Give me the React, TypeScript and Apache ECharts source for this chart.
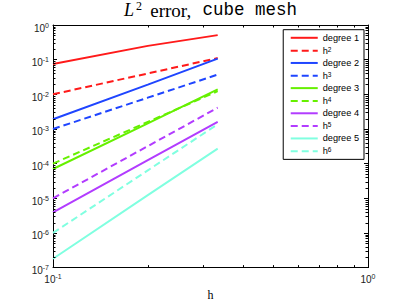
import React, { useEffect, useRef } from 'react';
import * as echarts from 'echarts';

// mesh sizes h
const hValues = [0.1, 0.2, 0.3333];

// errors
const degree1 = [0.075, 0.25, 0.51];
const hPow2 = [0.01, 0.04, 0.111];
const degree2 = [0.0019, 0.019, 0.107];
const hPow3 = [0.001, 0.008, 0.037];
const degree3 = [7e-5, 1.45e-3, 0.0138];
const hPow4 = [1e-4, 1.6e-3, 0.0123];
const degree4 = [3.9e-6, 1.26e-4, 0.0016];
const hPow5 = [1e-5, 3.2e-4, 0.0041];
const degree5 = [1.8e-7, 1.23e-5, 2.7e-4];
const hPow6 = [1e-6, 6.4e-5, 0.00137];

const seriesNames = ['degree 1', 'h2', 'degree 2', 'h3', 'degree 3', 'h4', 'degree 4', 'h5', 'degree 5', 'h6'];
const seriesValues = [degree1, hPow2, degree2, hPow3, degree3, hPow4, degree4, hPow5, degree5, hPow6];
const seriesColors = ['#ff1a1a', '#ff1a1a', '#1f45ff', '#1f45ff', '#66f000', '#66f000', '#b23cff', '#b23cff', '#80ffe0', '#80ffe0'];
const seriesDashed = [false, true, false, true, false, true, false, true, false, true];

const xMin = 0.1;
const xMax = 1;
const yMin = 1e-7;
const yMax = 1;
const xDecades = [0.1];
const yDecades = [1e-7, 1e-6, 1e-5, 1e-4, 1e-3, 1e-2, 1e-1];
const minorMultipliers = [2, 3, 4, 5, 6, 7, 8, 9];

const sansFont = 'Liberation Sans';
const black = '#000';

const labelFormatter = (v: number) => {
  const e = Math.round(Math.log10(v));
  return `{b|10}{s|${e}}`;
};

const labelRich = {
  b: { fontSize: 10, fontFamily: sansFont, color: '#222', lineHeight: 10, padding: [3, 0, 0, 0] },
  s: { fontSize: 7, fontFamily: sansFont, color: '#222', lineHeight: 8, verticalAlign: 'top' },
};

export default function App() {
  const ref = useRef<HTMLDivElement>(null);
  useEffect(() => {
    if (!ref.current) return;
    const chart = echarts.init(ref.current, undefined, { renderer: 'svg' });

    const majorLog = (pos: string, isX: boolean, showLabel: boolean) => ({
      type: 'log',
      logBase: 10,
      min: isX ? xMin : yMin,
      max: isX ? xMax : yMax,
      interval: 1,
      position: pos,
      axisLine: { show: true, onZero: false, lineStyle: { color: black, width: 1 } },
      axisTick: { show: true, inside: true, length: 4, lineStyle: { color: black, width: 1 } },
      axisLabel: showLabel
        ? {
            show: true,
            formatter: labelFormatter,
            rich: labelRich,
            margin: isX ? 5 : 4,
            padding: isX ? [0, 0, 0, 0] : [3, 0, 0, 0],
          }
        : { show: false },
      splitLine: { show: false },
      minorTick: { show: false },
    });

    const xAxes: any[] = [
      {
        ...majorLog('bottom', true, true),
        name: 'h',
        nameLocation: 'middle',
        nameGap: 19,
        nameTextStyle: { fontFamily: 'Liberation Serif', fontSize: 12, color: black },
      },
      majorLog('top', true, false),
    ];
    const yAxes: any[] = [majorLog('left', false, true), majorLog('right', false, false)];

    const series = seriesNames.map((name, i) => ({
      name,
      type: 'line',
      xAxisIndex: 0,
      yAxisIndex: 0,
      data: seriesValues[i].map((v, j) => [hValues[j], v]),
      symbol: 'none',
      showSymbol: false,
      color: seriesColors[i],
      lineStyle: { color: seriesColors[i], width: 2, type: seriesDashed[i] ? [7, 4] : 'solid' },
      z: 2 + i * 0.01,
    }));

    chart.setOption({
      animation: false,
      backgroundColor: '#fff',
      title: {
        text: '{i|L}{s|2} {r|error,} {m|cube mesh}',
        left: 124,
        top: 0,
        padding: 0,
        textStyle: {
          fontFamily: 'Liberation Serif',
          fontSize: 17,
          fontWeight: 'normal',
          color: black,
          lineHeight: 20,
          rich: {
            i: { fontFamily: 'Liberation Serif', fontStyle: 'italic', fontSize: 18, lineHeight: 20, color: black },
            s: { fontFamily: 'Liberation Serif', fontSize: 12, lineHeight: 12, verticalAlign: 'top', padding: [0, 0, 0, 2], color: black },
            r: { fontFamily: 'Liberation Serif', fontSize: 19, lineHeight: 20, padding: [0, 0, 0, 4], color: black },
            m: { fontFamily: 'Liberation Mono', fontSize: 17.5, lineHeight: 20, padding: [0, 0, 0, 7], color: black },
          },
        },
      },
      legend: {
        show: true,
        orient: 'vertical',
        right: 43,
        top: 29.7,
        itemWidth: 27,
        itemHeight: 10,
        itemGap: 3.33,
        padding: [3.6, 5, 3.6, 6.5],
        backgroundColor: '#fff',
        borderColor: black,
        borderWidth: 1,
        borderRadius: 0,
        data: seriesNames,
        itemStyle: { opacity: 0, color: 'rgba(0,0,0,0)', borderWidth: 0 },
        formatter: (name: string) =>
          name.startsWith('h') ? `{b|h}{s|${name.slice(1)}}` : `{b|${name}}`,
        textStyle: {
          fontFamily: sansFont,
          fontSize: 9.2,
          color: black,
          rich: {
            b: { fontFamily: sansFont, fontSize: 9.2, color: black, lineHeight: 10 },
            s: { fontFamily: sansFont, fontSize: 6.5, color: black, lineHeight: 7, verticalAlign: 'top' },
          },
        },
      },
      grid: { left: 53, right: 39, top: 25, bottom: 35, containLabel: false },
      xAxis: xAxes,
      yAxis: yAxes,
      series,
    });

    // minor ticks (2..9 in each decade) placed through the axes' own log scales
    const minorLen = 2.5;
    const x0 = chart.convertToPixel({ xAxisIndex: 0 }, xMin) as number;
    const x1 = chart.convertToPixel({ xAxisIndex: 0 }, xMax) as number;
    const yBottom = chart.convertToPixel({ yAxisIndex: 0 }, yMin) as number;
    const yTop = chart.convertToPixel({ yAxisIndex: 0 }, yMax) as number;
    const tickStyle = { stroke: black, lineWidth: 1 };
    const graphics: any[] = [];
    xDecades.forEach((d) =>
      minorMultipliers.forEach((m) => {
        const px = Math.round(chart.convertToPixel({ xAxisIndex: 0 }, d * m) as number) + 0.5;
        graphics.push({ type: 'line', silent: true, z: 10, shape: { x1: px, y1: yBottom, x2: px, y2: yBottom - minorLen }, style: tickStyle });
        graphics.push({ type: 'line', silent: true, z: 10, shape: { x1: px, y1: yTop, x2: px, y2: yTop + minorLen }, style: tickStyle });
      })
    );
    yDecades.forEach((d) =>
      minorMultipliers.forEach((m) => {
        const py = Math.round(chart.convertToPixel({ yAxisIndex: 0 }, d * m) as number) + 0.5;
        graphics.push({ type: 'line', silent: true, z: 10, shape: { x1: x0, y1: py, x2: x0 + minorLen, y2: py }, style: tickStyle });
        graphics.push({ type: 'line', silent: true, z: 10, shape: { x1: x1, y1: py, x2: x1 - minorLen, y2: py }, style: tickStyle });
      })
    );
    chart.setOption({ graphic: graphics });

    return () => chart.dispose();
  }, []);

  return <div ref={ref} style={{ position: 'absolute', left: 0, top: 0, width: 407, height: 306 }} />;
}
